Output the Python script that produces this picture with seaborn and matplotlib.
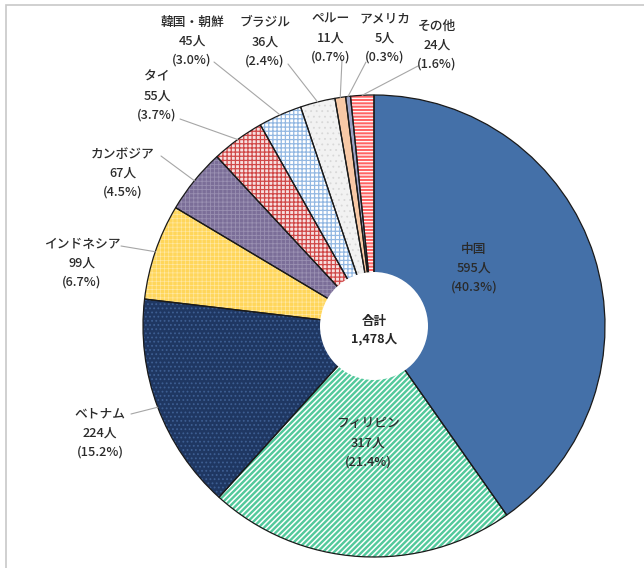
import matplotlib
matplotlib.use('Agg')
import matplotlib.pyplot as plt
import seaborn as sns
import numpy as np
from matplotlib.patches import Circle, Rectangle

# ---------------- data ----------------
countries = ['中国', 'フィリピン', 'ベトナム', 'インドネシア', 'カンボジア', 'タイ',
             '韓国・朝鮮', 'ブラジル', 'ペルー', 'アメリカ', 'その他']
counts = [595, 317, 224, 99, 67, 55, 45, 36, 11, 5, 24]
percents = [40.3, 21.4, 15.2, 6.7, 4.5, 3.7, 3.0, 2.4, 0.7, 0.3, 1.6]
total_title = '合計'
total_count = 1478

# ---------------- style ----------------
face_colors = ['#4470A8', '#52C99C', '#1F3762', '#FFD65A', '#7B6E98', '#F7E0E0',
               '#FFFFFF', '#F2F2F2', '#F8C9A6', '#9CA4C6', '#FF6464']
hatches = [None, '//////', '....', '++++', '++++', '++++', '++++', '...', None, None, '-----']
hatch_colors = ['#4470A8', '#FFFFFF', '#3D5E92', '#FFE9A6', '#9A90B2', '#D04848',
                '#93B8E2', '#D8D8D8', '#F8C9A6', '#9CA4C6', '#FFFFFF']
hatch_lw = [0.5, 1.1, 0.8, 0.45, 0.6, 0.9, 0.9, 0.6, 0.5, 0.5, 0.9]

sns.set_theme(style='white')
plt.rcParams['font.family'] = ['Noto Sans CJK JP', 'DejaVu Sans']

W, H = 644, 568
CX, CY, R = 374, 326, 231


def px(x, y):
    return ((x - CX) / R, (CY - y) / R)


fig = plt.figure(figsize=(W / 100, H / 100), dpi=100)
ax = fig.add_axes([0, 0, 1, 1])

# filled + hatched wedges
wedges, _ = ax.pie(counts, startangle=90, counterclock=False, radius=1.0,
                   colors=face_colors, wedgeprops=dict(linewidth=0))
for w, h, hc, lw in zip(wedges, hatches, hatch_colors, hatch_lw):
    w.set_edgecolor(hc)
    w.set_linewidth(0)
    if h:
        w.set_hatch(h)
        if hasattr(w, 'set_hatch_linewidth'):
            w.set_hatch_linewidth(lw)
# outline wedges
ax.pie(counts, startangle=90, counterclock=False, radius=1.0,
       colors=['none'] * len(counts),
       wedgeprops=dict(linewidth=0.9, edgecolor='#1A1A1A', fill=False))

# center hole
ax.add_patch(Circle((0, 0), 54 / R, facecolor='white', edgecolor='none', zorder=5))
ax.text(*px(374, 330), f'{total_title}\n{total_count:,}人', ha='center', va='center',
        fontsize=9, fontweight='bold', color='#262626', linespacing=1.5, zorder=6)

# label layout (pixel positions of text centres and leader starts)
text_pos = [(474, 268), (368, 443), (100, 433), (82, 263), (123, 173), (157, 96),
            (192, 41), (265, 42), (331, 38), (385, 38), (437, 45)]
leader_start = [None, None, (131, 414), (121, 246), (161, 156), (180, 119),
                (214, 62), (288, 64), (342, 60), (366, 62), (418, 66)]

for w, name, c, p, tp, ls in zip(wedges, countries, counts, percents, text_pos, leader_start):
    ax.text(*px(*tp), f'{name}\n{c}人\n({p:.1f}%)', ha='center', va='center',
            fontsize=9.2, fontweight='medium', color='#2A2A2A', linespacing=1.6, zorder=6)
    if ls is not None:
        mid = np.deg2rad((w.theta1 + w.theta2) / 2)
        ex, ey = np.cos(mid) * w.r, np.sin(mid) * w.r
        sx, sy = px(*ls)
        ax.plot([sx, ex], [sy, ey], color='#A6A6A6', lw=0.8, zorder=4)

ax.set_aspect('auto')
ax.set_xlim((0 - CX) / R, (W - CX) / R)
ax.set_ylim((CY - H) / R, (CY - 0) / R)
ax.axis('off')

# outer frame (partially visible)
fig.add_artist(Rectangle((6 / W, -0.1), 1.2, (H - 5) / H + 0.1, transform=fig.transFigure,
                         fill=False, edgecolor='#C8C8C8', linewidth=1.2))

fig.savefig('out.png', dpi=100)
